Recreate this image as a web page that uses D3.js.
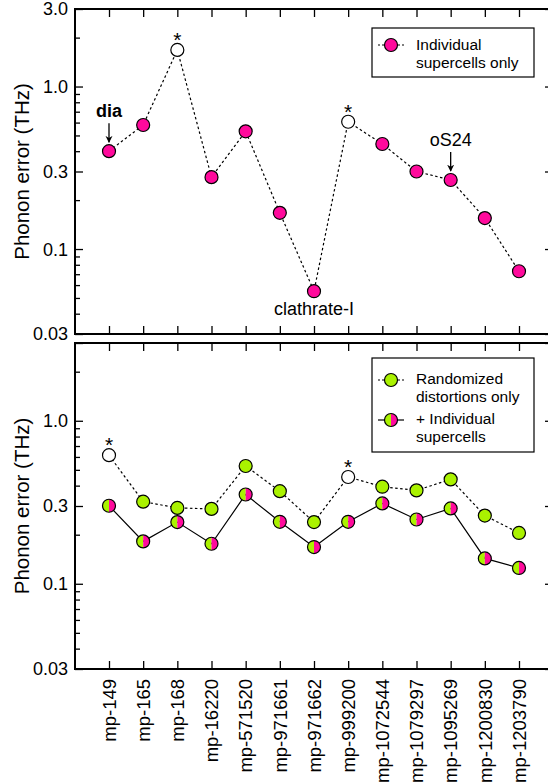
<!DOCTYPE html>
<html>
<head>
<meta charset="utf-8">
<script src="https://cdn.jsdelivr.net/npm/d3@7"></script>
<style>
  body { margin: 0; background: #fff; }
  svg { display: block; font-family: "Liberation Sans", Arial, sans-serif; }
</style>
</head>
<body>
<div id="chart"></div>
<script>
// data
const materials = ['mp-149', 'mp-165', 'mp-168', 'mp-16220', 'mp-571520', 'mp-971661', 'mp-971662',
    'mp-999200', 'mp-1072544', 'mp-1079297', 'mp-1095269', 'mp-1200830', 'mp-1203790']
const individualOnly = [0.40, 0.58, 1.68, 0.277, 0.53, 0.167, 0.055, 0.607, 0.443, 0.30, 0.266, 0.155, 0.073]
const randomizedOnly = [0.615, 0.319, 0.292, 0.288, 0.528, 0.37, 0.239, 0.452, 0.394, 0.374, 0.437, 0.262, 0.205]
const combined = [0.301, 0.182, 0.239, 0.176, 0.353, 0.24, 0.168, 0.24, 0.311, 0.248, 0.29, 0.143, 0.125]
const starredTop = ['mp-168', 'mp-999200']
const starredBottom = ['mp-149', 'mp-999200']
const yTickLabels = [3.0, 1.0, 0.3, 0.1, 0.03]

const W = 548, H = 784
const PINK = '#ff0a9c', GREEN = '#aaf200'
const frameL = 75, frameR = 553
const topPanel = { top: 9, bottom: 334 }
const botPanel = { top: 343, bottom: 669 }

const svg = d3.select('#chart').append('svg').attr('width', W).attr('height', H)

const x = d3.scalePoint().domain(materials).range([109, 519])

const minorVals = []
;[0.01, 0.1, 1].forEach(dec => d3.range(1, 10).forEach(m => {
    const v = +(dec * m).toPrecision(3)
    if (v >= 0.03 && v <= 3 && !yTickLabels.includes(v)) minorVals.push(v)
}))

const defs = svg.append('defs')
defs.append('marker').attr('id', 'arrow').attr('viewBox', '0 0 10 10')
    .attr('refX', 9).attr('refY', 5).attr('markerWidth', 7).attr('markerHeight', 9)
    .attr('markerUnits', 'userSpaceOnUse').attr('orient', 'auto')
    .append('path').attr('d', 'M0,0 L10,5 L0,10 L3,5 Z').attr('fill', '#000')

const drawPanel = (p, showTopLabel) => {
    const y = d3.scaleLog().domain([0.03, 3]).range([p.bottom, p.top])
    const g = svg.append('g')
    // y ticks left and right
    const left = g.append('g').attr('transform', 'translate(' + frameL + ',0)')
        .call(d3.axisRight(y).tickValues(yTickLabels).tickSize(8).tickFormat(''))
    left.append('g').call(d3.axisRight(y).tickValues(minorVals).tickSize(5).tickFormat(''))
    const right = g.append('g').attr('transform', 'translate(' + frameR + ',0)')
        .call(d3.axisLeft(y).tickValues(yTickLabels).tickSize(8).tickFormat(''))
    right.append('g').call(d3.axisLeft(y).tickValues(minorVals).tickSize(5).tickFormat(''))
    // x ticks top and bottom
    g.append('g').attr('transform', 'translate(0,' + p.top + ')')
        .call(d3.axisBottom(x).tickSize(8).tickFormat(''))
    g.append('g').attr('transform', 'translate(0,' + p.bottom + ')')
        .call(d3.axisTop(x).tickSize(8).tickFormat(''))
    g.selectAll('.domain').remove()
    g.selectAll('.tick line').attr('stroke', '#000').attr('stroke-width', 1.3)

    // y tick labels
    g.selectAll('.ylab')
        .data(yTickLabels.filter(v => showTopLabel || v < 3))
        .join('text')
        .attr('x', 68).attr('y', d => y(d))
        .attr('dy', '0.36em').attr('text-anchor', 'end')
        .attr('font-size', 18).text(d => d.toFixed(d < 0.1 ? 2 : 1))

    // frame
    g.append('rect').attr('x', frameL).attr('y', p.top)
        .attr('width', frameR - frameL).attr('height', p.bottom - p.top)
        .attr('fill', 'none').attr('stroke', '#000').attr('stroke-width', 2)

    g.append('text')
        .attr('transform', 'translate(29,' + (p.top + p.bottom) / 2 + ') rotate(-90)')
        .attr('text-anchor', 'middle').attr('font-size', 20.5)
        .text('Phonon error (THz)')
    return { g, y }
}

const R = 6.5
const drawSeries = (g, y, values, fill, dash, open) => {
    const pts = materials.map((m, i) => ({ m, v: values[i] }))
    g.append('path').datum(pts)
        .attr('fill', 'none').attr('stroke', '#000').attr('stroke-width', 1.2)
        .attr('stroke-dasharray', dash)
        .attr('d', d3.line().x(d => x(d.m)).y(d => y(d.v)))
    g.selectAll(null).data(pts).join('circle')
        .attr('cx', d => x(d.m)).attr('cy', d => y(d.v)).attr('r', R)
        .attr('fill', d => open.includes(d.m) ? '#fff' : fill)
        .attr('stroke', '#000').attr('stroke-width', 1.2)
}

const halfPath = (cx, cy, side) =>
    'M' + cx + ',' + (cy - R) + ' A' + R + ',' + R + ' 0 0 ' + (side < 0 ? 0 : 1) + ' ' + cx + ',' + (cy + R) + ' Z'

const drawHalfMarker = (g, cx, cy) => {
    g.append('path').attr('d', halfPath(cx, cy, -1)).attr('fill', GREEN)
    g.append('path').attr('d', halfPath(cx, cy, 1)).attr('fill', PINK)
    g.append('circle').attr('cx', cx).attr('cy', cy).attr('r', R)
        .attr('fill', 'none').attr('stroke', '#000').attr('stroke-width', 1.2)
}

const stars = (g, y, values, list) => {
    g.selectAll(null).data(list).join('text')
        .attr('x', d => x(d)).attr('y', d => y(values[materials.indexOf(d)]) - 3)
        .attr('text-anchor', 'middle').attr('font-size', 21).text('*')
}

// one text per legend line
const legendLines = (g, xPos, yPos, lines, size, lh) => {
    lines.forEach((s, i) => g.append('text')
        .attr('x', xPos).attr('y', yPos + i * lh).attr('font-size', size).text(s))
}

// top panel
const topP = drawPanel(topPanel, true)
drawSeries(topP.g, topP.y, individualOnly, PINK, '2.5,2.5', starredTop)
stars(topP.g, topP.y, individualOnly, starredTop)

const ann = (g, y, m, v, label, bold) => {
    const cx = x(m), cy = y(v)
    g.append('text').attr('x', cx).attr('y', cy - 34).attr('text-anchor', 'middle')
        .attr('font-size', 18).attr('font-weight', bold ? 'bold' : 'normal').text(label)
    g.append('line').attr('x1', cx).attr('x2', cx)
        .attr('y1', cy - 28).attr('y2', cy - 9)
        .attr('stroke', '#000').attr('stroke-width', 1.3).attr('marker-end', 'url(#arrow)')
}
ann(topP.g, topP.y, 'mp-149', individualOnly[0], 'dia', true)
ann(topP.g, topP.y, 'mp-1095269', individualOnly[10], 'oS24', false)
topP.g.append('text').attr('x', x('mp-971662')).attr('y', topP.y(individualOnly[6]) + 24)
    .attr('text-anchor', 'middle').attr('font-size', 18).text('clathrate-I')

// top legend
const lg1 = topP.g.append('g')
lg1.append('rect').attr('x', 372).attr('y', 28).attr('width', 162).attr('height', 49)
    .attr('fill', '#fff').attr('stroke', '#000').attr('stroke-width', 1.2)
lg1.append('line').attr('x1', 378).attr('x2', 404).attr('y1', 45).attr('y2', 45)
    .attr('stroke', '#000').attr('stroke-width', 1.2).attr('stroke-dasharray', '2,2')
lg1.append('circle').attr('cx', 391).attr('cy', 45).attr('r', R)
    .attr('fill', PINK).attr('stroke', '#000').attr('stroke-width', 1.2)
legendLines(lg1, 416, 50, ['Individual', 'supercells only'], 15.5, 18)

// bottom panel
const botP = drawPanel(botPanel, false)
drawSeries(botP.g, botP.y, randomizedOnly, GREEN, '2.5,2.5', starredBottom)
stars(botP.g, botP.y, randomizedOnly, starredBottom)
const combPts = materials.map((m, i) => ({ m, v: combined[i] }))
botP.g.append('path').datum(combPts)
    .attr('fill', 'none').attr('stroke', '#000').attr('stroke-width', 1.2)
    .attr('d', d3.line().x(d => x(d.m)).y(d => botP.y(d.v)))
combPts.forEach(d => drawHalfMarker(botP.g, x(d.m), botP.y(d.v)))

const lg2 = botP.g.append('g')
lg2.append('rect').attr('x', 372).attr('y', 358).attr('width', 162).attr('height', 94)
    .attr('fill', '#fff').attr('stroke', '#000').attr('stroke-width', 1.2)
lg2.append('line').attr('x1', 378).attr('x2', 404).attr('y1', 380).attr('y2', 380)
    .attr('stroke', '#000').attr('stroke-width', 1.2).attr('stroke-dasharray', '2,2')
lg2.append('circle').attr('cx', 391).attr('cy', 380).attr('r', R)
    .attr('fill', GREEN).attr('stroke', '#000').attr('stroke-width', 1.2)
legendLines(lg2, 416, 384, ['Randomized', 'distortions only'], 15.5, 18)
lg2.append('line').attr('x1', 378).attr('x2', 404).attr('y1', 420).attr('y2', 420)
    .attr('stroke', '#000').attr('stroke-width', 1.2)
drawHalfMarker(lg2, 391, 420)
legendLines(lg2, 416, 424, ['+ Individual', 'supercells'], 15.5, 18)

// x labels
svg.append('g').selectAll('text').data(materials).join('text')
    .attr('transform', d => 'translate(' + x(d) + ',679) rotate(-90)')
    .attr('dy', '0.36em').attr('text-anchor', 'end').attr('font-size', 18.5)
    .text(d => d)
</script>
</body>
</html>
